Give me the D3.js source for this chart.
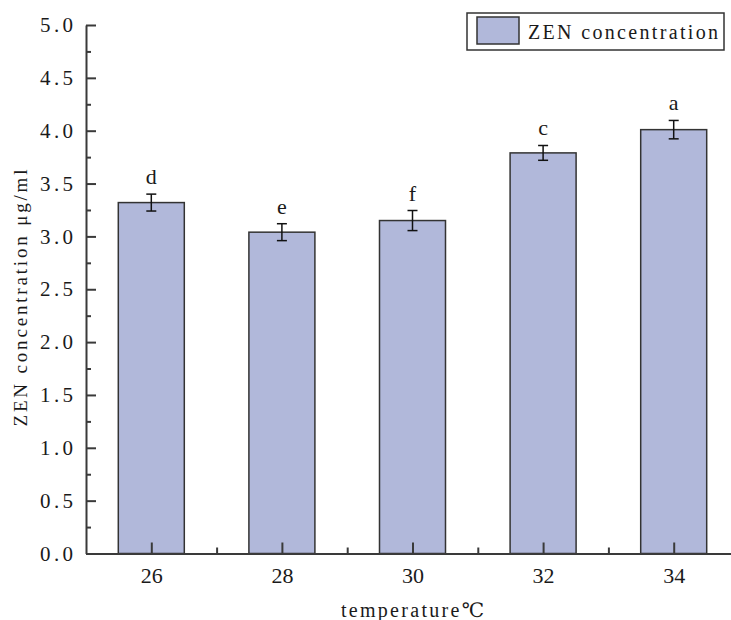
<!DOCTYPE html>
<html>
<head>
<meta charset="utf-8">
<script src="https://cdn.jsdelivr.net/npm/d3@7"></script>
<style>
  body { margin: 0; background: #fff; }
  svg text { font-family: "Liberation Serif", "Times New Roman", "DejaVu Serif", serif !important; fill: #1a1a1a; }
</style>
</head>
<body>
<svg id="chart" width="731" height="620"></svg>
<script>
// data
const temperatures = [26, 28, 30, 32, 34];
const zenValues    = [3.32, 3.04, 3.15, 3.79, 4.01];
const zenErrors    = [0.08, 0.08, 0.095, 0.07, 0.087];
const sigLetters   = ["d", "e", "f", "c", "a"];
const yMajorTicks  = [0, 0.5, 1, 1.5, 2, 2.5, 3, 3.5, 4, 4.5, 5];
const yMinorTicks  = [0.25, 0.75, 1.25, 1.75, 2.25, 2.75, 3.25, 3.75, 4.25, 4.75];
const xMajorTicks  = [26, 28, 30, 32, 34];
const xMinorTicks  = [27, 29, 31, 33];

const svg = d3.select("#chart");

// layout
const plotLeft = 86, plotBottom = 553.5, plotTop = 25;
const x = d3.scaleLinear().domain([25, 35]).range([plotLeft, plotLeft + 653]);
const y = d3.scaleLinear().domain([0, 5]).range([plotBottom, plotTop]);
const barW = 66;
const axisColor = "#3a3a3a";

// bars
svg.append("g").selectAll("rect")
  .data(temperatures)
  .join("rect")
  .attr("x", (d) => x(d) - barW / 2)
  .attr("y", (d, i) => y(zenValues[i]))
  .attr("width", barW)
  .attr("height", (d, i) => plotBottom - y(zenValues[i]))
  .attr("fill", "#b1b8da")
  .attr("stroke", "#333")
  .attr("stroke-width", 1.5);

// error bars
const eb = svg.append("g").attr("stroke", "#111").attr("stroke-width", 1.5);
temperatures.forEach((t, i) => {
  const cx = x(t), hi = y(zenValues[i] + zenErrors[i]), lo = y(zenValues[i] - zenErrors[i]);
  eb.append("line").attr("x1", cx).attr("x2", cx).attr("y1", hi).attr("y2", lo);
  eb.append("line").attr("x1", cx - 5).attr("x2", cx + 5).attr("y1", hi).attr("y2", hi);
  eb.append("line").attr("x1", cx - 5).attr("x2", cx + 5).attr("y1", lo).attr("y2", lo);
});

// significance letters
svg.append("g").selectAll("text")
  .data(temperatures)
  .join("text")
  .attr("x", (d) => x(d))
  .attr("y", (d, i) => y(zenValues[i] + zenErrors[i]) - 10)
  .attr("text-anchor", "middle")
  .attr("font-size", 22)
  .text((d, i) => sigLetters[i]);

// y axis (ticks inward)
const yAxis = svg.append("g")
  .attr("transform", `translate(${plotLeft},0)`)
  .call(d3.axisLeft(y).tickValues(yMajorTicks).tickSize(-10).tickSizeOuter(0)
    .tickPadding(13).tickFormat(d3.format(".1f")));
svg.append("g")
  .attr("transform", `translate(${plotLeft},0)`)
  .call(d3.axisLeft(y).tickValues(yMinorTicks).tickSize(-5).tickFormat(""))
  .select(".domain").remove();

// x axis (ticks inward)
const xAxis = svg.append("g")
  .attr("transform", `translate(0,${plotBottom})`)
  .call(d3.axisBottom(x).tickValues(xMajorTicks).tickSize(-11).tickSizeOuter(0)
    .tickPadding(14).tickFormat(d3.format("d")));
svg.append("g")
  .attr("transform", `translate(0,${plotBottom})`)
  .call(d3.axisBottom(x).tickValues(xMinorTicks).tickSize(-6).tickFormat(""))
  .select(".domain").remove();

svg.selectAll(".domain, .tick line")
  .attr("stroke", axisColor)
  .attr("stroke-width", 2);

yAxis.selectAll(".tick text")
  .attr("font-size", 21)
  .attr("textLength", 33)
  .attr("lengthAdjust", "spacing");

xAxis.selectAll(".tick text")
  .attr("font-size", 22);

// axis titles
svg.append("text")
  .attr("x", x(30))
  .attr("y", 617)
  .attr("text-anchor", "middle")
  .attr("font-size", 20)
  .attr("textLength", 143)
  .attr("lengthAdjust", "spacing")
  .text("temperature\u2103");

svg.append("text")
  .attr("transform", `translate(27,298) rotate(-90)`)
  .attr("text-anchor", "middle")
  .attr("font-size", 19)
  .attr("textLength", 257)
  .attr("lengthAdjust", "spacing")
  .text("ZEN concentration \u03bcg/ml");

// legend
const lg = svg.append("g");
lg.append("rect")
  .attr("x", 467).attr("y", 13).attr("width", 257).attr("height", 37)
  .attr("fill", "#fff").attr("stroke", "#333").attr("stroke-width", 1.5);
lg.append("rect")
  .attr("x", 477).attr("y", 17).attr("width", 42).attr("height", 27)
  .attr("fill", "#b1b8da").attr("stroke", "#333").attr("stroke-width", 1.5);
lg.append("text")
  .attr("x", 528).attr("y", 39)
  .attr("font-size", 20)
  .attr("textLength", 190)
  .attr("lengthAdjust", "spacing")
  .text("ZEN concentration");
</script>
</body>
</html>
